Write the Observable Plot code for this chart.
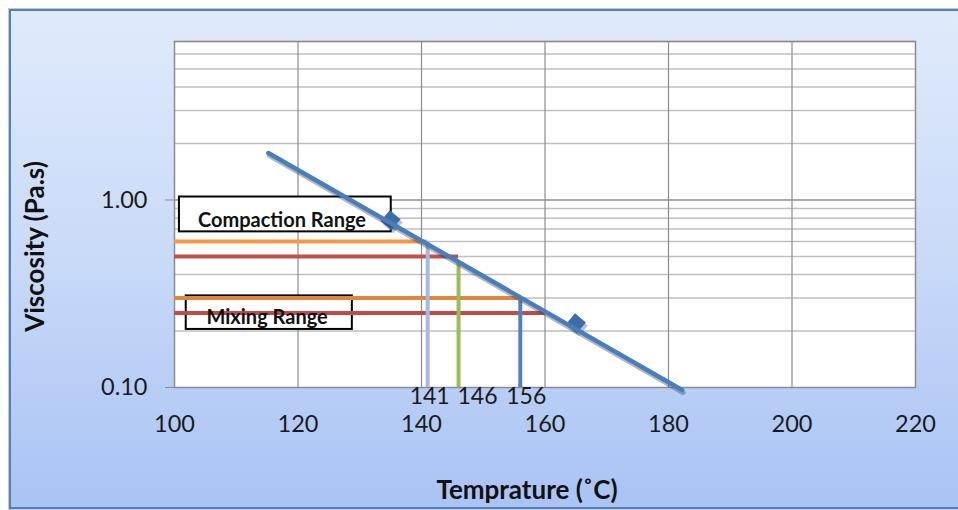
<!DOCTYPE html>
<html>
<head>
<meta charset="utf-8">
<script src="https://cdn.jsdelivr.net/npm/d3@7"></script>
<script src="https://cdn.jsdelivr.net/npm/@observablehq/plot@0.6"></script>
<style>
  html, body { margin: 0; padding: 0; background: #ffffff; overflow: hidden; }
  #wrap { position: relative; width: 958px; height: 510px; }
  #bg {
    position: absolute; left: 9px; top: 9px; width: 960px; height: 496px;
    border: 2px solid #4f81bd;
    box-shadow: 0 0 0 1px #c9c9c9;
    background: linear-gradient(to bottom, #e0eafb 0%, #c9daf8 50%, #a9c3f4 100%);
  }
  #chart { position: absolute; left: 0; top: 0; }
  #chart svg { background: transparent; overflow: visible; }
</style>
</head>
<body>
<div id="wrap"><div id="bg"></div><div id="chart"></div></div>
<script>
// ---- data ----
const xTicks = [100, 120, 140, 160, 180, 200, 220];
const yTicks = [0.1, 1];
const yMinorGrid = [0.2, 0.3, 0.4, 0.5, 0.6, 0.7, 0.8, 0.9, 2, 3, 4, 5, 6, 7];

// measured points (temperature °C, viscosity Pa.s)
const pointTemp = [135, 165];
const pointVisc = [0.78, 0.22];

// straight trend line (log scale) end points
const trendTemp = [115.2, 182.2];
const trendVisc = [1.78, 0.097];

// range lines: viscosity level and temperature where it meets the trend
const rangeVisc = [0.6, 0.5, 0.3, 0.25];
const rangeTemp = [141, 146, 156, 160];
const rangeColor = ["#f79646", "#c0504d", "#e0873e", "#bd4b48"];

// vertical markers at temperatures
const markTemp = [141, 146, 156];
const markTop = [0.6, 0.46, 0.29];
const markColor = ["#a7b9dc", "#9bbb59", "#4f81bd"];
const markLabelShift = [2, 19, 6];

// annotation boxes
const boxLabels = ["Compaction Range", "Mixing Range"];
const boxX1 = [100.8, 101.9];
const boxX2 = [135.1, 128.8];
const boxY1 = [0.676, 0.204];
const boxY2 = [1.037, 0.308];
const boxTextX = [117.4, 115.0];
const boxTextY = [0.773, 0.236];

// ---- build tables ----
const points = pointTemp.map((t, i) => ({t, v: pointVisc[i]}));
const trend = trendTemp.map((t, i) => ({t, v: trendVisc[i]}));
const ranges = rangeVisc.map((v, i) => ({v, t2: rangeTemp[i], c: rangeColor[i]}));
const marks = markTemp.map((t, i) => ({t, top: markTop[i], c: markColor[i]}));
const boxes = boxLabels.map((label, i) => ({
  label, x1: boxX1[i], x2: boxX2[i], y1: boxY1[i], y2: boxY2[i], tx: boxTextX[i], ty: boxTextY[i]
}));

const FONT = "Lato, 'Open Sans', sans-serif";

const labelMarks = marks.map((m, i) =>
  Plot.text([m], {
    x: "t", y: () => 0.1, text: d => String(d.t),
    dx: markLabelShift[i], dy: 9.5, lineAnchor: "middle", textAnchor: "middle",
    fontSize: 23, fill: "#1a1a1a", fontFamily: FONT
  })
);

const chart = Plot.plot({
  width: 958,
  height: 510,
  marginLeft: 174,
  marginRight: 43,
  marginTop: 41,
  marginBottom: 123,
  style: { fontFamily: FONT, background: "transparent", overflow: "visible" },
  x: { domain: [100, 220] },
  y: { type: "log", domain: [0.1, 7] },
  marks: [
    Plot.frame({ fill: "white", stroke: null }),
    Plot.gridY(yMinorGrid, { stroke: "#bfbfbf", strokeOpacity: 1, strokeWidth: 1.5 }),
    Plot.gridY([1], { stroke: "#8f8f8f", strokeOpacity: 1, strokeWidth: 1.5 }),
    Plot.gridX(xTicks.slice(1, -1), { stroke: "#8c8c8c", strokeOpacity: 1, strokeWidth: 1.2 }),
    Plot.frame({ stroke: "#8c8c8c", strokeWidth: 1.5 }),

    Plot.rect(boxes, { x1: "x1", x2: "x2", y1: "y1", y2: "y2", fill: "white", stroke: "black", strokeWidth: 2 }),

    Plot.ruleY(ranges, { y: "v", x1: () => 100, x2: "t2", stroke: "c", strokeWidth: 4 }),
    Plot.ruleX(marks, { x: "t", y1: () => 0.1, y2: "top", stroke: "c", strokeWidth: 4 }),

    Plot.dot(points, { x: "t", y: "v", symbol: "square", r: 8, rotate: 40, fill: "#2b5a8f", fillOpacity: 0.35, dx: 2, dy: 3 }),
    Plot.dot(points, { x: "t", y: "v", symbol: "square", r: 8, rotate: 40, fill: "#3c6da8" }),
    Plot.line(trend, { x: "t", y: "v", stroke: "#1c3658", strokeOpacity: 0.35, strokeWidth: 5, dx: 1, dy: 2.5 }),
    Plot.line(trend, { x: "t", y: "v", stroke: "#4a7ebb", strokeWidth: 4.5 }),

    Plot.text(boxes, { x: "tx", y: "ty", text: "label", fontSize: 20, fontWeight: "bold", fill: "#111", fontFamily: FONT }),

    Plot.axisY(yTicks, { tickFormat: d3.format(".2f"), tickSize: 9, tickPadding: 18, fontSize: 23.5, label: null, stroke: "#8c8c8c", fill: "#1a1a1a" }),
    Plot.axisX(xTicks, { tickSize: 0, tickPadding: 27.5, fontSize: 23.5, label: null, fill: "#1a1a1a" }),
    ...labelMarks,

    Plot.text(["Viscosity (Pa.s)"], { text: d => d, frameAnchor: "left", textAnchor: "middle", lineAnchor: "middle", dx: -139, dy: 32, rotate: -90, fontSize: 26, fontWeight: "bold", fill: "#111", fontFamily: FONT }),
    Plot.text(["Temprature (˚C)"], { text: d => d, frameAnchor: "bottom", textAnchor: "middle", lineAnchor: "middle", dx: -18, dy: 103, fontSize: 26, fontWeight: "bold", fill: "#111", fontFamily: FONT })
  ]
});

document.getElementById("chart").appendChild(chart);
</script>
</body>
</html>
